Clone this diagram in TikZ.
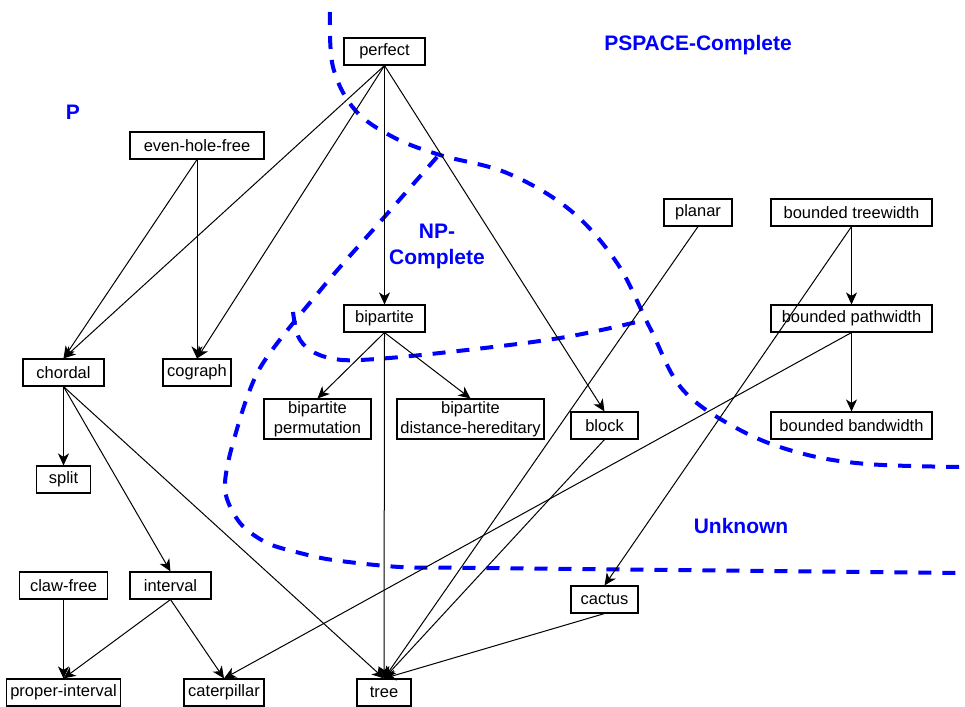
\documentclass[tikz,border=0pt]{standalone}
\usepackage{fontspec}
\setmainfont{Liberation Sans}
\usetikzlibrary{arrows.meta}
\begin{document}
\begin{tikzpicture}[x=1pt,y=-1pt,
  box/.style={draw=black, line width=1.1pt, fill=white, inner sep=0pt, minimum height=27pt,
    font=\fontsize{16.5}{19.5}\selectfont, align=center},
  edge/.style={line width=1pt, -{Stealth[length=12pt,width=11pt,inset=3.5pt]}},
  region/.style={draw=blue, line width=4pt, dash pattern=on 13pt off 11pt},
  lab/.style={text=blue, font=\fontsize{21}{26}\selectfont\bfseries, align=center}]
\useasboundingbox (0,0) rectangle (965,706);

% region boundaries
\draw[region] plot[smooth, tension=0.6] coordinates {(330,12) (333,67) (355,110) (393,137) (440,155) (507,173) (570,210) (617,263) (650,328) (683,390) (740,430) (800,453) (867,464) (965,467)};
\draw[region] plot[smooth, tension=0.5] coordinates {(437,157) (380,222) (323,287) (260,368) (233,443) (225,490) (240,523) (267,543) (300,553) (333,560) (400,567) (480,568) (965,573)};
\draw[region] plot[smooth, tension=0.6] coordinates {(293,312) (298,336) (310,350) (330,358) (360,360) (440,353) (560,338) (645,320)};

% labels
\node[lab] (lp) at (73,112) {P};
\node[lab] (lps) at (698,45) {PSPACE-Complete};
\node[lab] (lnp) at (437,246) {NP-\\Complete};
\node[lab] (lun) at (741,526) {Unknown};

% nodes
\node[box, minimum width=81pt] (perfect) at (384.5,51.5) {perfect};
\node[box, minimum width=134pt] (evenhole) at (197,145.5) {even-hole-free};
\node[box, minimum width=81pt] (chordal) at (63.5,372.5) {chordal};
\node[box, minimum width=68pt] (cograph) at (197,372.5) {cograph};
\node[box, minimum width=81pt] (bipartite) at (384.5,318.5) {bipartite};
\node[box, minimum width=107pt, minimum height=40pt] (bperm) at (317.5,419) {bipartite\\permutation};
\node[box, minimum width=147pt, minimum height=40pt] (bdh) at (470.5,419) {bipartite\\distance-hereditary};
\node[box, minimum width=67pt] (block) at (604.5,425.5) {block};
\node[box, minimum width=68pt] (planar) at (698,212.5) {planar};
\node[box, minimum width=161pt] (btw) at (851.5,212.5) {bounded treewidth};
\node[box, minimum width=161pt] (bpw) at (851.5,318.5) {bounded pathwidth};
\node[box, minimum width=161pt] (bbw) at (851.5,425.5) {bounded bandwidth};
\node[box, minimum width=54pt] (split) at (63.5,479.5) {split};
\node[box, minimum width=88pt] (claw) at (63.5,585.5) {claw-free};
\node[box, minimum width=81pt] (interval) at (170.5,585.5) {interval};
\node[box, minimum width=114pt] (pint) at (63.5,692.5) {proper-interval};
\node[box, minimum width=80pt] (cater) at (224,692.5) {caterpillar};
\node[box, minimum width=54pt] (tree) at (384,692.5) {tree};
\node[box, minimum width=67pt] (cactus) at (604.5,599.5) {cactus};

% edges
\draw[edge] (perfect.south) -- (chordal.north);
\draw[edge] (perfect.south) -- (cograph.north);
\draw[edge] (perfect.south) -- (bipartite.north);
\draw[edge] (perfect.south) -- (block.north);
\draw[edge] (evenhole.south) -- (chordal.north);
\draw[edge] (evenhole.south) -- (cograph.north);
\draw[edge] (bipartite.south) -- (bperm.north);
\draw[edge] (bipartite.south) -- (bdh.north);
\draw[edge] (bipartite.south) -- (tree.north);
\draw[edge] (chordal.south) -- (split.north);
\draw[edge] (chordal.south) -- (interval.north);
\draw[edge] (chordal.south) -- (tree.north);
\draw[edge] (claw.south) -- (pint.north);
\draw[edge] (interval.south) -- (pint.north);
\draw[edge] (interval.south) -- (cater.north);
\draw[edge] (planar.south) -- (tree.north);
\draw[edge] (block.south) -- (tree.north);
\draw[edge] (cactus.south) -- (tree.north);
\draw[edge] (btw.south) -- (bpw.north);
\draw[edge] (btw.south) -- (cactus.north);
\draw[edge] (bpw.south) -- (bbw.north);
\draw[edge] (bpw.south) -- (cater.north);
\end{tikzpicture}
\end{document}
